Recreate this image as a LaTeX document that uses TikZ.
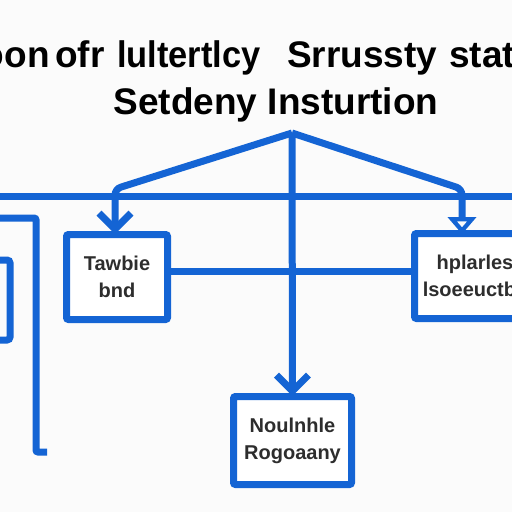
\documentclass[tikz,border=0pt]{standalone}
\usepackage{fontspec}
\setmainfont{Liberation Sans}
\usetikzlibrary{arrows.meta}
\definecolor{bl}{RGB}{20,100,212}
\definecolor{tx}{RGB}{45,45,45}
\definecolor{bg}{RGB}{251,251,251}
\begin{document}
\begin{tikzpicture}[x=1pt,y=-1pt,
  wire/.style={draw=bl,line width=7pt},
  boxnode/.style={draw=bl,line width=7pt,rounded corners=2pt,fill=white,
    font=\bfseries\fontsize{20}{27}\selectfont,text=tx,align=center,inner sep=0pt},
  titletext/.style={font=\bfseries\fontsize{37}{42}\selectfont,text=black,inner sep=0pt},
  chev/.style={-{Straight Barb[length=16pt,width=32pt]}},
  tri/.style={-{Triangle[open,length=17pt,width=28pt]}}]
\useasboundingbox (0,0) rectangle (512,512);
\fill[bg] (0,0) rectangle (512,512);
\clip (0,0) rectangle (512,512);
% titles
\node[titletext,anchor=base east] (t1a) at (50,67) {oon};
\node[titletext,anchor=base west] (t1b) at (55,67) {ofr};
\node[titletext,anchor=base west,xscale=0.93] (t1c) at (117,67) {lultertlcy};
\node[titletext,anchor=base west] (t1d) at (287,67) {Srrussty};
\node[titletext,anchor=base west] (t1e) at (449,67) {stati};
\node[titletext,anchor=base] (t2) at (276,114) {Setdeny Insturtion};
% coordinates
\coordinate (apex) at (292,133);
\coordinate (hl) at (-5,196);
\coordinate (hr) at (517,196);
\coordinate (my) at (0,271);
% boxes
\node[boxnode,minimum width=101pt,minimum height=85pt] (L) at (117,277) {Tawbie\\bnd};
\node[boxnode,minimum width=121pt,minimum height=85pt] (R) at (475,276) {hplarles\\lsoeeuctbe};
\node[boxnode,minimum width=118pt,minimum height=88pt] (B) at (292.5,440.5) {Noulnhle\\Rogoaany};
% main horizontal line
\draw[wire] (hl) -- (hr);
% left frame
\draw[wire,rounded corners=2pt] (-5,218) -- (36,218) -- (36,452) -- (47,452);
\draw[wire,rounded corners=3pt] (-10,260) rectangle (10,340);
% connection between boxes
\draw[wire] (L.east |- my) -- (R.west |- my);
% arrows from apex
\draw[wire,chev,rounded corners=6pt] (apex) -- (115,189) -- ([xshift=-2pt,yshift=-3pt]L.north);
\draw[wire,tri,rounded corners=6pt] (apex) -- (462,189) -- ([xshift=-13pt,yshift=-4pt]R.north);
\draw[wire,chev] (apex) -- ([yshift=-3pt]B.north);
\end{tikzpicture}
\end{document}
